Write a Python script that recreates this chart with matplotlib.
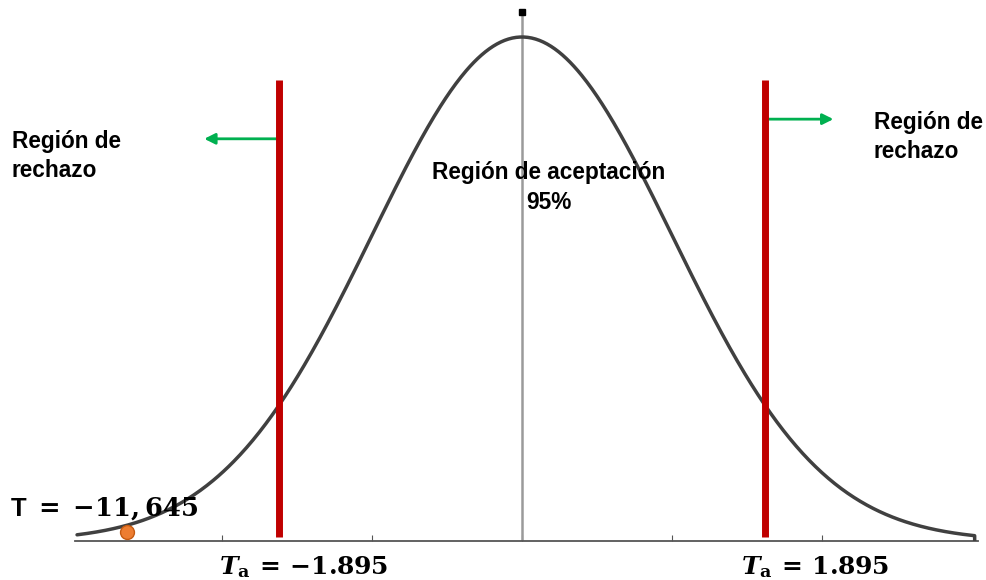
import numpy as np
import matplotlib.pyplot as plt

# valores criticos y estadistico
t_crit = 1.895
t_stat = -11.645
sigma = 1.17                      # ancho de la campana en unidades del eje
ticks = [-2.34, -1.17, 0, 1.17, 2.34]
x_lim = (-3.486, 3.556)
punto_x, punto_y = -3.08, 0.018   # posicion del punto T sobre la cola

plt.rcParams['font.family'] = ['Liberation Sans', 'DejaVu Sans']
plt.rcParams['mathtext.fontset'] = 'custom'
plt.rcParams['mathtext.rm'] = 'DejaVu Serif:bold'
plt.rcParams['mathtext.it'] = 'DejaVu Serif:italic:bold'
plt.rcParams['mathtext.bf'] = 'DejaVu Serif:bold'

W, H = 987, 580
fig = plt.figure(figsize=(W / 100, H / 100), dpi=100)
ax = fig.add_axes([75 / W, 1 - 541 / H, (978 - 75) / W, 541 / H])

def fx(px): return px / W
def fy(py): return 1 - py / H

# campana
x = np.linspace(-3.47, 3.53, 700)
y = np.exp(-x**2 / (2 * sigma**2))
x = np.append(x, x[-1])
y = np.append(y, 0)
ax.plot(x, y, color='#404040', lw=2.5, solid_capstyle='round', zorder=3)

# eje vertical central
ax.plot([0, 0], [0, 1.044], color='#9a9a9a', lw=1.8, zorder=2)
ax.plot(0, 1.05, marker='s', color='black', ms=5, clip_on=False)

# lineas criticas
ax.vlines([-t_crit, t_crit], 0.008, 0.915, color='#c00000', lw=5, zorder=4)

# flechas de las regiones de rechazo
verde = '#00b050'
ax.annotate('', xy=(-2.5, 0.798), xytext=(-t_crit, 0.798),
            arrowprops=dict(arrowstyle='-|>', color=verde, lw=2, mutation_scale=16))
ax.annotate('', xy=(2.45, 0.837), xytext=(t_crit, 0.837),
            arrowprops=dict(arrowstyle='-|>', color=verde, lw=2, mutation_scale=16))

# estadistico de prueba
ax.plot(punto_x, punto_y, 'o', ms=10, color='#ed7d31', mec='#c55a11', mew=1,
        zorder=5, clip_on=False)

ax.set_xlim(*x_lim)
ax.set_ylim(0, 541 / 504)
for s in ['top', 'left', 'right']:
    ax.spines[s].set_visible(False)
ax.spines['bottom'].set_color('#555555')
ax.spines['bottom'].set_linewidth(1.3)
ax.set_xticks(ticks)
ax.set_xticklabels([])
ax.set_yticks([])
ax.tick_params(axis='x', direction='in', length=4, color='#555555')

# textos
fig.text(fx(12), fy(130), 'Región de\nrechazo', fontsize=16.3, fontweight='bold',
         ha='left', va='top', linespacing=1.35)
fig.text(fx(874), fy(111), 'Región de\nrechazo', fontsize=16.3, fontweight='bold',
         ha='left', va='top', linespacing=1.35)
fig.text(fx(549), fy(161), 'Región de aceptación\n95%', fontsize=16.3,
         fontweight='bold', ha='center', va='top', linespacing=1.4)

fig.text(fx(304), fy(574), r'$T_{\mathrm{a}}\,=\,{-%.3f}$' % t_crit, fontsize=18,
         ha='center', va='baseline')
fig.text(fx(815), fy(574), r'$T_{\mathrm{a}}\,=\,{%.3f}$' % t_crit, fontsize=18,
         ha='center', va='baseline')
fig.text(fx(10), fy(516), r'T $=\;{%s}$' % f'{t_stat:.3f}'.replace('.', ','),
         fontsize=18.5, fontweight='bold', ha='left', va='baseline')

fig.savefig('out.png', dpi=100)
